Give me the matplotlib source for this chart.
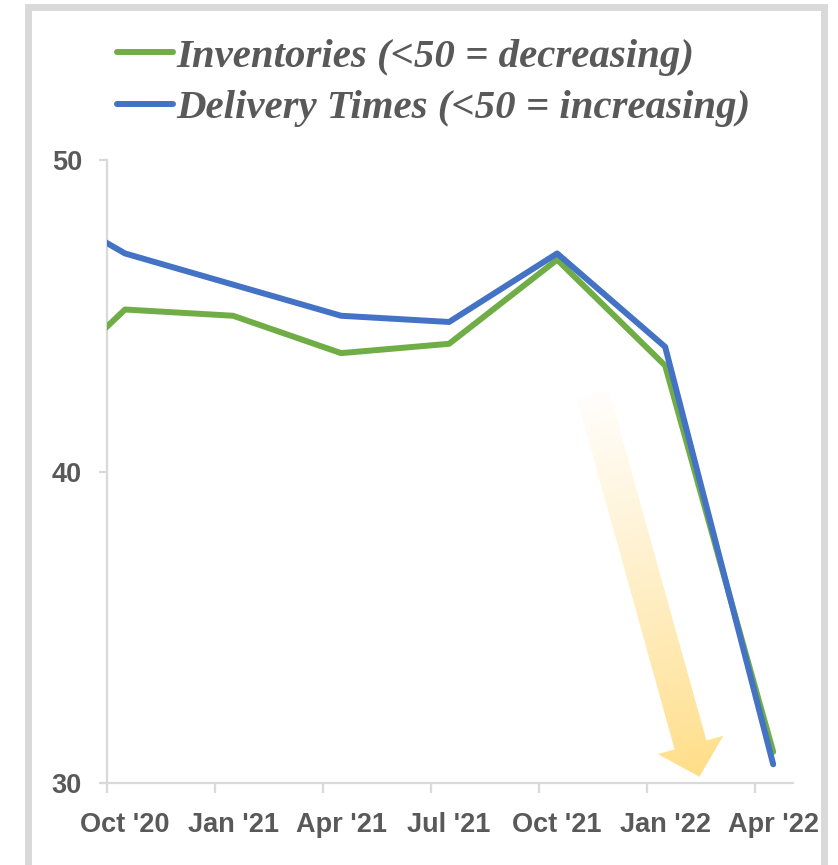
import matplotlib
matplotlib.use("Agg")
import matplotlib.pyplot as plt
import numpy as np
from matplotlib.patches import Rectangle, Polygon
from matplotlib.lines import Line2D

# quarterly readings, x in months after Oct '20 (points sit mid-month)
months = [-2.5, 0.5, 3.5, 6.5, 9.5, 12.5, 15.5, 18.5]
inventories = [41.9, 45.2, 45.0, 43.8, 44.1, 46.8, 43.4, 31.0]
delivery = [49.0, 47.0, 46.0, 45.0, 44.8, 47.0, 44.0, 30.6]
tick_labels = ["Oct '20", "Jan '21", "Apr '21", "Jul '21", "Oct '21", "Jan '22", "Apr '22"]
tick_pos = [0, 3, 6, 9, 12, 15, 18]

GREEN = "#70AD47"
BLUE = "#4472C4"
GRID = "#d9d9d9"
TXT = "#595959"

W, H = 838, 865
fig = plt.figure(figsize=(W / 100, H / 100), dpi=100)
fig.patch.set_facecolor("white")

# grey frame round the chart
fig.patches.append(Rectangle((27.5 / W, -0.05), (823.5 - 27.5) / W, 1 - 7.5 / H + 0.05,
                             transform=fig.transFigure, fill=False,
                             edgecolor=GRID, linewidth=5.0))

ax = fig.add_axes([107 / W, 1 - 783 / H, (793 - 107) / W, (783 - 160) / H])
ax.set_xlim(0, 19.05)
ax.set_ylim(30, 50)

ax.plot(months, inventories, color=GREEN, lw=4.3, solid_capstyle="round", zorder=3)
ax.plot(months, delivery, color=BLUE, lw=4.3, solid_capstyle="round", zorder=4)

for s in ["top", "right"]:
    ax.spines[s].set_visible(False)
for s in ["left", "bottom"]:
    ax.spines[s].set_color(GRID)
    ax.spines[s].set_linewidth(1.6)

tickfont = dict(family=["Liberation Sans Narrow", "Liberation Sans", "DejaVu Sans"],
                weight="bold", size=19.5, color=TXT)

ax.set_yticks([30, 40, 50])
ax.set_yticklabels(["30", "40", "50"], **tickfont)
ax.tick_params(axis="y", direction="out", length=6, width=1.6, color=GRID, pad=12)

# ticks at quarter boundaries, labels centred on the data points
ax.set_xticks(tick_pos)
ax.set_xticklabels([])
ax.set_xticks([p + 0.5 for p in tick_pos], minor=True)
ax.set_xticklabels(tick_labels, minor=True, **tickfont)
ax.tick_params(axis="x", which="major", direction="out", length=7, width=1.6, color=GRID)
ax.tick_params(axis="x", which="minor", length=0, pad=21)

# gradient arrow
arrow_start = (13.5, 42.45)
arrow_end = (16.45, 30.2)
fig.canvas.draw()
S = ax.transData.transform(arrow_start)
E = ax.transData.transform(arrow_end)
d = E - S
u = d / np.hypot(*d)
n = np.array([-u[1], u[0]])
w, hw, hl = 16.5, 34, 33
B = E - u * hl
pts = [S + n * w, B + n * w, B + n * hw, E, B - n * hw, B - n * w, S - n * w]
pts_data = ax.transData.inverted().transform(np.array(pts))
poly = Polygon(pts_data, closed=True, facecolor="none", edgecolor="none")
ax.add_patch(poly)

x0, y0 = pts_data.min(axis=0)
x1, y1 = pts_data.max(axis=0)
gx, gy = np.meshgrid(np.linspace(x0, x1, 200), np.linspace(y1, y0, 400))
disp = ax.transData.transform(np.column_stack([gx.ravel(), gy.ravel()]))
t = ((disp - S) @ d) / (d @ d)
t = np.clip(t, 0, 1).reshape(gx.shape)
img = np.zeros(gx.shape + (4,))
img[..., 0] = 1.0
img[..., 1] = 0.87 - 0.02 * t
img[..., 2] = 0.55 - 0.1 * t
img[..., 3] = 0.03 + 0.82 * t
im = ax.imshow(img, extent=[x0, x1, y0, y1], aspect="auto", zorder=2, interpolation="bilinear")
im.set_clip_path(poly)
ax.set_xlim(0, 19.05)
ax.set_ylim(30, 50)

# legend
handles = [Line2D([], [], color=GREEN, lw=4.3, solid_capstyle="round"),
           Line2D([], [], color=BLUE, lw=4.3, solid_capstyle="round")]
labels = ["Inventories (<50 = decreasing)", "Delivery Times (<50 = increasing)"]
leg = fig.legend(handles, labels, loc="upper left", bbox_to_anchor=(117 / W, 1 - 38 / H),
                 frameon=False, borderpad=0, borderaxespad=0, handlelength=1.37,
                 handletextpad=0.08, labelspacing=0.35,
                 prop=dict(family=["Liberation Serif", "DejaVu Serif"], weight="bold",
                           style="italic", size=29.4))
for tx in leg.get_texts():
    tx.set_color(TXT)

fig.savefig("out.png", dpi=100)
